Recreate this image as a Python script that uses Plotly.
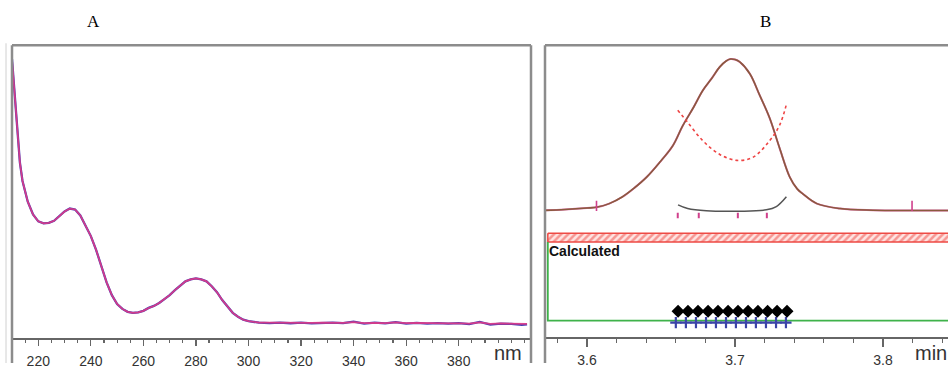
import plotly.graph_objects as go

W, H = 948, 369

# ---------------- Panel A: UV spectrum ----------------
wl_main = [210, 211, 212, 213, 214, 215, 216, 218, 220, 222, 224, 226, 228, 230, 232, 234,
           236, 238, 240, 242, 244, 246, 248, 250, 252, 254, 256, 258, 260, 262, 264, 266,
           268, 270, 272, 274, 276, 278, 280, 282, 284, 286, 288, 290, 292, 294, 296, 298,
           300, 302, 304]
abs_main = [2.84, 2.46, 2.06, 1.79, 1.60, 1.48, 1.39, 1.26, 1.19, 1.17, 1.175, 1.195, 1.24, 1.29,
            1.32, 1.31, 1.25, 1.15, 1.04, 0.90, 0.73, 0.57, 0.44, 0.35, 0.30, 0.27, 0.26, 0.265,
            0.28, 0.31, 0.33, 0.36, 0.40, 0.44, 0.49, 0.54, 0.58, 0.60, 0.61, 0.60, 0.58, 0.53,
            0.47, 0.39, 0.32, 0.26, 0.22, 0.19, 0.175, 0.165, 0.16]
wl_flat = [308, 312, 316, 320, 324, 328, 332, 336, 340, 344, 348, 352, 356, 360, 364, 368,
           372, 376, 380, 384, 388, 392, 396, 400, 404, 406]
abs_flat_red = [0.160, 0.158, 0.160, 0.156, 0.158, 0.160, 0.157, 0.158, 0.165, 0.155, 0.158,
                0.156, 0.162, 0.155, 0.157, 0.154, 0.156, 0.152, 0.154, 0.150, 0.162, 0.148,
                0.152, 0.150, 0.146, 0.148]
abs_flat_blue = [0.155, 0.160, 0.154, 0.160, 0.152, 0.158, 0.160, 0.155, 0.170, 0.150, 0.160,
                 0.152, 0.165, 0.150, 0.158, 0.150, 0.156, 0.150, 0.156, 0.146, 0.168, 0.140,
                 0.150, 0.148, 0.138, 0.142]
wl_ticks = [220, 240, 260, 280, 300, 320, 340, 360, 380]

# ---------------- Panel B: chromatogram ----------------
rt = [3.5679, 3.5850, 3.6000, 3.6071, 3.6150, 3.6240, 3.6320, 3.6403, 3.6491, 3.6580,
      3.6646, 3.6720, 3.6782, 3.6841, 3.6897, 3.6940, 3.6969, 3.7000, 3.7032, 3.7100,
      3.7167, 3.7234, 3.7300, 3.7370, 3.7420, 3.7458, 3.7553, 3.7709, 3.7932, 3.8200, 3.8450]
signal = [0, 1, 2.5, 3.5, 7, 14, 23, 34, 49, 66, 86, 105, 122, 134, 146, 152, 154, 153.5,
          151, 139, 117, 94, 64, 34, 22, 17, 7, 2, 0.3, 0, 0]
purity_rt = [3.6613, 3.6673, 3.6782, 3.6897, 3.7012, 3.7120, 3.7234, 3.7302, 3.7349]
purity_val = [102, 91, 71, 57, 51, 54, 71, 87, 109]
thresh_rt = [3.6615, 3.6680, 3.6806, 3.7032, 3.7212, 3.7279, 3.7347]
thresh_val = [5.7, 2.0, -0.3, -0.7, 0.7, 4.0, 14.0]
scan_marks_rt = [3.6613, 3.6755, 3.7019, 3.7215]
peak_limits_rt = [3.6064, 3.8196]
diamond_rt = [3.6615, 3.6682, 3.6750, 3.6818, 3.6885, 3.6953, 3.7020, 3.7088, 3.7155,
              3.7220, 3.7284, 3.7351]
plus_rt = [3.6600, 3.6668, 3.6736, 3.6804, 3.6871, 3.6939, 3.7006, 3.7074, 3.7141,
           3.7209, 3.7277, 3.7344]
rt_ticks = [3.6, 3.7, 3.8]


def fx(x):
    return x / W


def fy(y):
    return 1 - y / H


fig = go.Figure()

# spectrum: blue + red overlapping -> purple
fig.add_trace(go.Scatter(x=wl_main + wl_flat, y=abs_main + abs_flat_blue, mode="lines",
                         line=dict(color="#4a3fb5", width=2.3), xaxis="x", yaxis="y",
                         hoverinfo="skip"))
fig.add_trace(go.Scatter(x=wl_main + wl_flat, y=abs_main + abs_flat_red, mode="lines",
                         line=dict(color="#e03a86", width=1.7), opacity=0.9,
                         xaxis="x", yaxis="y", hoverinfo="skip"))

# chromatogram
fig.add_trace(go.Scatter(x=rt, y=signal, mode="lines", line_shape="spline",
                         line=dict(color="#dc70a8", width=2.0),
                         xaxis="x2", yaxis="y2", hoverinfo="skip"))
fig.add_trace(go.Scatter(x=rt, y=signal, mode="lines", line_shape="spline",
                         line=dict(color="#8a5a3e", width=1.6),
                         xaxis="x2", yaxis="y2", hoverinfo="skip"))
# purity curve (dotted)
fig.add_trace(go.Scatter(x=purity_rt, y=purity_val, mode="lines", line_shape="spline",
                         line=dict(color="#ee4444", width=1.6, dash="dot"),
                         xaxis="x2", yaxis="y2", hoverinfo="skip"))
# threshold curve
fig.add_trace(go.Scatter(x=thresh_rt, y=thresh_val, mode="lines", line_shape="spline",
                         line=dict(color="#555555", width=1.5),
                         xaxis="x2", yaxis="y2", hoverinfo="skip"))
# scan marks
SCAN_LEVEL = -5
fig.add_trace(go.Scatter(x=scan_marks_rt, y=[SCAN_LEVEL] * len(scan_marks_rt), mode="markers",
                         marker=dict(symbol="line-ns", size=4, line=dict(color="#d0408c", width=2)),
                         xaxis="x2", yaxis="y2", hoverinfo="skip"))
# peak limit marks
lx, ly = [], []
for t in peak_limits_rt:
    lx += [t, t, None]
    ly += [-0.5, 10, None]
fig.add_trace(go.Scatter(x=lx, y=ly, mode="lines", line=dict(color="#d0408c", width=1.6),
                         xaxis="x2", yaxis="y2", hoverinfo="skip"))

# lower strip: hatched band
BAND_TOP, BAND_BOT = -23, -32
GREEN_LEVEL = -112
band_x0, band_x1 = 3.5735, 3.90
fig.add_trace(go.Scatter(x=[band_x0, band_x1, band_x1, band_x0, band_x0],
                         y=[BAND_TOP, BAND_TOP, BAND_BOT, BAND_BOT, BAND_TOP],
                         mode="lines", fill="toself", fillcolor="rgba(0,0,0,0)",
                         fillpattern=dict(shape="/", fgcolor="#ee4a44", bgcolor="#ffe4e2",
                                          size=5, solidity=0.5),
                         line=dict(color="#ee4a44", width=1.5),
                         xaxis="x2", yaxis="y2", hoverinfo="skip"))
# green box
fig.add_trace(go.Scatter(x=[band_x0, band_x0, band_x1], y=[BAND_BOT, GREEN_LEVEL, GREEN_LEVEL],
                         mode="lines", line=dict(color="#3fb24a", width=1.8),
                         xaxis="x2", yaxis="y2", hoverinfo="skip"))
# diamonds and pluses
DIAMOND_LEVEL = -102.5
PLUS_LEVEL = -114
fig.add_trace(go.Scatter(x=plus_rt, y=[PLUS_LEVEL] * len(plus_rt), mode="markers",
                         marker=dict(symbol="cross-thin", size=8,
                                     line=dict(color="#3b44a8", width=2.2)),
                         xaxis="x2", yaxis="y2", hoverinfo="skip"))
fig.add_trace(go.Scatter(x=diamond_rt, y=[DIAMOND_LEVEL] * len(diamond_rt), mode="markers",
                         marker=dict(symbol="diamond", size=10, color="black"),
                         xaxis="x2", yaxis="y2", hoverinfo="skip"))

tickfont = dict(family="Liberation Sans, Arial, sans-serif", size=14, color="#333333")

fig.update_layout(
    width=W, height=H, margin=dict(l=0, r=0, t=0, b=0),
    paper_bgcolor="white", plot_bgcolor="white", showlegend=False,
    xaxis=dict(domain=[fx(12), fx(531)], range=[210, 407.5], anchor="y",
               tickvals=wl_ticks, ticks="outside", ticklen=6, tickwidth=1.2,
               tickcolor="#666666", showline=True, linecolor="#666666", linewidth=1.5,
               showgrid=False, zeroline=False, tickfont=tickfont, ticklabelstandoff=3,
               minor=dict(dtick=5, tick0=220, ticks="outside", ticklen=3, tickcolor="#666666",
                          showgrid=False)),
    yaxis=dict(domain=[fy(344), fy(46)], range=[0, 2.98], visible=False, anchor="x"),
    xaxis2=dict(domain=[fx(545), 1.0], range=[3.5716, 3.8439], anchor="y2",
                tickvals=rt_ticks, ticktext=["3.6", "3.7", "3.8"], ticks="outside",
                ticklen=8, tickwidth=1.2, tickcolor="#666666", showline=True,
                linecolor="#666666", linewidth=1.5, showgrid=False, zeroline=False,
                tickfont=tickfont, ticklabelstandoff=1,
                minor=dict(dtick=0.02, tick0=3.6, ticks="outside", ticklen=4,
                           tickcolor="#666666", showgrid=False)),
    yaxis2=dict(domain=[fy(343), fy(46)], range=[-129, 168], visible=False, anchor="x2"),
)

frame_col = "#8c8c8c"
shapes = []
# light outer line
shapes.append(dict(type="line", xref="paper", yref="paper", x0=fx(6), x1=fx(6),
                   y0=fy(44), y1=0, line=dict(color="#d0d0d0", width=1)))
# panel frames
for (x0, y0, x1, y1) in [(12, 46, 531, 46), (12, 46, 12, 369), (531, 46, 531, 369),
                         (545, 46, 948, 46), (545, 46, 545, 369)]:
    shapes.append(dict(type="line", xref="paper", yref="paper", x0=fx(x0), x1=fx(x1),
                       y0=fy(y0), y1=fy(y1), line=dict(color=frame_col, width=2.5)))
fig.update_layout(shapes=shapes)

annots = [
    dict(text="A", x=fx(93), y=fy(22), font=dict(family="Liberation Serif, Times New Roman, serif",
                                                size=17, color="black")),
    dict(text="B", x=fx(765), y=fy(22), font=dict(family="Liberation Serif, Times New Roman, serif",
                                                 size=17, color="black")),
    dict(text="nm", x=fx(508), y=fy(359), font=dict(family="Liberation Sans, Arial, sans-serif",
                                                   size=20, color="#333333")),
    dict(text="min", x=fx(913), y=fy(359), xanchor="left",
         font=dict(family="Liberation Sans, Arial, sans-serif", size=20, color="#333333")),
    dict(text="<b>Calculated</b>", x=fx(547), y=fy(255), xanchor="left",
         font=dict(family="Liberation Sans, Arial, sans-serif", size=14, color="#111111")),
]
for a in annots:
    a.setdefault("xanchor", "center")
    a.update(xref="paper", yref="paper", yanchor="middle", showarrow=False)
fig.update_layout(annotations=annots)

fig.write_html("out.html", config={"displayModeBar": False, "staticPlot": True},
               post_script="document.body.style.margin='0px';document.body.style.overflow='hidden';")
